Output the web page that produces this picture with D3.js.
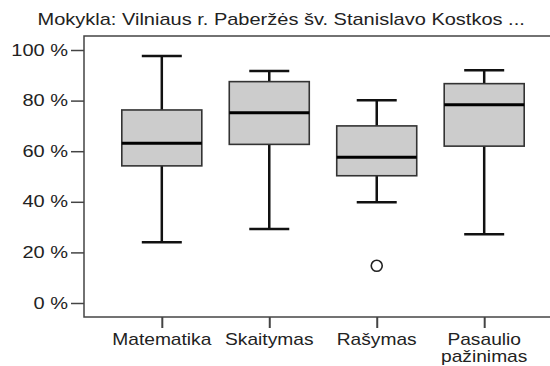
<!DOCTYPE html>
<html><head><meta charset="utf-8">
<script src="https://cdn.jsdelivr.net/npm/d3@7/dist/d3.min.js"></script>
<style>
body{margin:0;background:#fff;}
text{font-family:"Liberation Sans",Arial,sans-serif;fill:#222;}
</style></head>
<body><svg id="c" width="550" height="366"></svg>
<script>
const categories = ["Matematika","Skaitymas","Rašymas","Pasaulio pažinimas"];
const lowerWhisker = [24.0, 29.2, 39.8, 27.2];
const q1 = [54.2, 62.7, 50.3, 62.0];
const median = [63.1, 75.2, 57.6, 78.4];
const q3 = [76.3, 87.5, 70.0, 86.7];
const upperWhisker = [97.6, 91.7, 80.1, 92.0];
const outliers = [[], [], [14.7], []];
const yTicks = [0, 20, 40, 60, 80, 100];
const title = "Mokykla: Vilniaus r. Paberžės šv. Stanislavo Kostkos ...";

const SX = 1.2; // horizontal stretch of text glyphs
const svg = d3.select("#c");
const L = 84, R = 562, T = 36, B = 317;
const y = d3.scaleLinear().domain([0, 100]).range([303, 50]);
const x = d3.scalePoint().domain(categories).range([L, R]).padding(0.724);

function stretchedText(px, py, anchor, sx) {
  return svg.append("g").attr("transform", `translate(${px},${py})`)
    .append("text").attr("transform", `scale(${sx || SX},1)`).attr("text-anchor", anchor).attr("font-size", 16);
}

const tt = stretchedText(37.5, 25, "start", 1.2).text(title);
const tl = tt.node().getComputedTextLength();
tt.attr("transform", `scale(${487 / tl},1)`);

// frame
svg.append("rect").attr("x", L).attr("y", T).attr("width", R - L).attr("height", B - T)
  .attr("fill", "none").attr("stroke", "#444").attr("stroke-width", 1.5);

// y axis
const YSX = 1.25;
const ya = svg.append("g").attr("transform", `translate(${L},0)`)
  .call(d3.axisLeft(y).tickValues(yTicks).tickSize(13).tickPadding(3).tickFormat(d => d + " %"));
ya.select(".domain").remove();
ya.selectAll("line").attr("stroke", "#444").attr("stroke-width", 1.5);
ya.selectAll("text").attr("font-size", 16).attr("fill", "#222")
  .attr("x", -16 / YSX).attr("transform", `scale(${YSX},1)`)
  .style("font-family", '"Liberation Sans",Arial,sans-serif');

// x axis
const xa = svg.append("g").attr("transform", `translate(0,${B})`)
  .call(d3.axisBottom(x).tickSize(11).tickPadding(0).tickFormat(""));
xa.select(".domain").remove();
xa.selectAll("line").attr("stroke", "#444").attr("stroke-width", 2);
categories.forEach(c => {
  const words = c.split(" ");
  const t = stretchedText(x(c), 344.5, "middle");
  words.forEach((w, i) => {
    t.append("tspan").attr("x", 0).attr("y", i * 17.5).text(w);
  });
});

const bw = 80, cw = 40;
categories.forEach((c, i) => {
  const cx = x(c);
  const g = svg.append("g");
  g.append("line").attr("x1", cx).attr("x2", cx).attr("y1", y(upperWhisker[i])).attr("y2", y(q3[i]))
    .attr("stroke", "#111").attr("stroke-width", 2.5);
  g.append("line").attr("x1", cx).attr("x2", cx).attr("y1", y(q1[i])).attr("y2", y(lowerWhisker[i]))
    .attr("stroke", "#111").attr("stroke-width", 2.5);
  [upperWhisker[i], lowerWhisker[i]].forEach(v => {
    g.append("line").attr("x1", cx - cw / 2).attr("x2", cx + cw / 2).attr("y1", y(v)).attr("y2", y(v))
      .attr("stroke", "#111").attr("stroke-width", 2.5);
  });
  g.append("rect").attr("x", cx - bw / 2).attr("width", bw).attr("y", y(q3[i]))
    .attr("height", y(q1[i]) - y(q3[i])).attr("fill", "#cccccc").attr("stroke", "#333").attr("stroke-width", 1.6);
  g.append("line").attr("x1", cx - bw / 2).attr("x2", cx + bw / 2).attr("y1", y(median[i])).attr("y2", y(median[i]))
    .attr("stroke", "#000").attr("stroke-width", 3);
  outliers[i].forEach(v => {
    g.append("circle").attr("cx", cx).attr("cy", y(v)).attr("r", 5.5)
      .attr("fill", "#fff").attr("stroke", "#222").attr("stroke-width", 1.6);
  });
});
</script></body></html>
